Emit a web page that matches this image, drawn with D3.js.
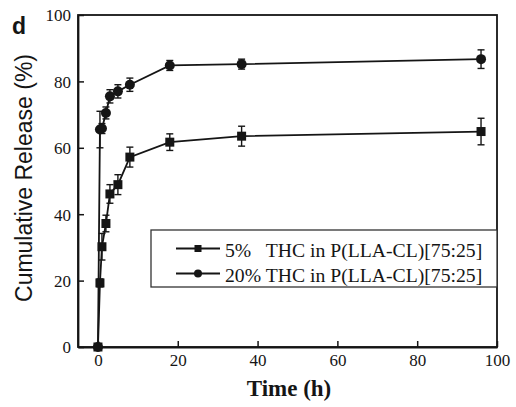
<!DOCTYPE html>
<html>
<head>
<meta charset="utf-8">
<script src="https://cdn.jsdelivr.net/npm/d3@7"></script>
<style>
  html, body { margin: 0; padding: 0; background: #fff; }
  svg { display: block; }
</style>
</head>
<body>
<svg id="chart" width="516" height="407"></svg>
<script>
// ---- data ----
const times = [0, 0.5, 1, 2, 3, 5, 8, 18, 36, 96];
const release5 = [0, 19.3, 30.2, 37.2, 46.1, 48.9, 57.2, 61.7, 63.5, 64.9];
const err5 = [0, 1.2, 4, 2.5, 2.8, 3, 3, 2.5, 3, 4];
const release20 = [0, 65.5, 65.8, 70.5, 75.5, 77.0, 79.0, 84.8, 85.2, 86.7];
const err20 = [0, 5.5, 1.5, 1.8, 2, 2, 2, 1.5, 1.5, 2.8];
const seriesNames = ["5%   THC in P(LLA-CL)[75:25]", "20% THC in P(LLA-CL)[75:25]"];
const xTicks = [0, 20, 40, 60, 80, 100];
const yTicks = [0, 20, 40, 60, 80, 100];
const xTitle = "Time (h)";
const yTitle = "Cumulative Release (%)";
const panelLabel = "d";

// ---- layout ----
const svg = d3.select("#chart");
const pL = 78, pR = 497, pT = 15, pB = 347;
const x = d3.scaleLinear().domain([-5, 100]).range([pL, pR]);
const y = d3.scaleLinear().domain([0, 100]).range([pB, pT]);
const ink = "#151515";
const serif = "Liberation Serif";
const sans = "Liberation Sans";

// frame
svg.append("rect")
  .attr("x", pL).attr("y", pT)
  .attr("width", pR - pL).attr("height", pB - pT)
  .attr("fill", "none").attr("stroke", ink).attr("stroke-width", 1.8);

// axes
const xAxis = svg.append("g").attr("transform", `translate(0,${pB})`)
  .call(d3.axisBottom(x).tickValues(xTicks).tickSizeInner(-6).tickSizeOuter(0).tickPadding(10));
const yAxis = svg.append("g").attr("transform", `translate(${pL},0)`)
  .call(d3.axisLeft(y).tickValues(yTicks).tickSizeInner(-6).tickSizeOuter(0).tickPadding(7));
[xAxis, yAxis].forEach(g => {
  g.attr("font-family", serif).attr("font-size", 17);
  g.select(".domain").attr("stroke", ink).attr("stroke-width", 1.8);
  g.selectAll(".tick line").attr("stroke", ink).attr("stroke-width", 1.5);
  g.selectAll(".tick text").attr("fill", ink)
    .attr("font-family", serif).attr("font-size", 17);
});
xAxis.selectAll(".tick text").attr("dy", "0.55em");
yAxis.selectAll(".tick text").attr("dy", "0.35em");

// titles
svg.append("text")
  .attr("x", 289).attr("y", 396)
  .attr("text-anchor", "middle")
  .attr("font-family", serif).attr("font-size", 23).attr("font-weight", "bold")
  .attr("fill", ink).text(xTitle);
svg.append("text")
  .attr("transform", `translate(32,${(pT + pB) / 2 - 3}) rotate(-90)`)
  .attr("text-anchor", "middle")
  .attr("font-family", sans).attr("font-size", 23)
  .attr("fill", ink).text(yTitle);
svg.append("text")
  .attr("x", 12).attr("y", 34)
  .attr("font-family", sans).attr("font-size", 23).attr("font-weight", "bold")
  .attr("fill", ink).text(panelLabel);

// series
const series = [
  { vals: release5, errs: err5, shape: "square" },
  { vals: release20, errs: err20, shape: "circle" }
];
const line = d3.line().x(d => x(d.t)).y(d => y(d.v));

series.forEach(s => {
  const pts = times.map((t, i) => ({ t, v: s.vals[i], e: s.errs[i] }));
  svg.append("path").datum(pts)
    .attr("d", line).attr("fill", "none")
    .attr("stroke", ink).attr("stroke-width", 1.8);
  const eb = svg.append("g");
  pts.filter(p => p.e > 0).forEach(p => {
    eb.append("line").attr("x1", x(p.t)).attr("x2", x(p.t))
      .attr("y1", y(p.v - p.e)).attr("y2", y(p.v + p.e))
      .attr("stroke", ink).attr("stroke-width", 1.4);
    [p.v - p.e, p.v + p.e].forEach(v => {
      eb.append("line").attr("x1", x(p.t) - 3.5).attr("x2", x(p.t) + 3.5)
        .attr("y1", y(v)).attr("y2", y(v))
        .attr("stroke", ink).attr("stroke-width", 1.4);
    });
  });
  const mk = svg.append("g");
  pts.forEach(p => {
    if (s.shape === "square") {
      mk.append("rect").attr("x", x(p.t) - 4.5).attr("y", y(p.v) - 4.5)
        .attr("width", 9).attr("height", 9).attr("fill", ink);
    } else {
      mk.append("circle").attr("cx", x(p.t)).attr("cy", y(p.v))
        .attr("r", 5).attr("fill", ink);
    }
  });
});

// legend
const lg = svg.append("g");
lg.append("rect").attr("x", 151).attr("y", 230)
  .attr("width", pR - 151).attr("height", 57)
  .attr("fill", "#fff").attr("stroke", "#333").attr("stroke-width", 1.3);
seriesNames.forEach((name, i) => {
  const ly = 248.5 + i * 25;
  lg.append("line").attr("x1", 176).attr("x2", 220).attr("y1", ly).attr("y2", ly)
    .attr("stroke", ink).attr("stroke-width", 1.8);
  if (i === 0) {
    lg.append("rect").attr("x", 198 - 3.5).attr("y", ly - 3.5).attr("width", 7).attr("height", 7).attr("fill", ink);
  } else {
    lg.append("circle").attr("cx", 198).attr("cy", ly).attr("r", 4).attr("fill", ink);
  }
  lg.append("text").attr("x", 225).attr("y", ly + 8)
    .attr("font-family", serif).attr("font-size", 19.7)
    .style("white-space", "pre").attr("xml:space", "preserve")
    .attr("fill", ink).text(name);
});
</script>
</body>
</html>
